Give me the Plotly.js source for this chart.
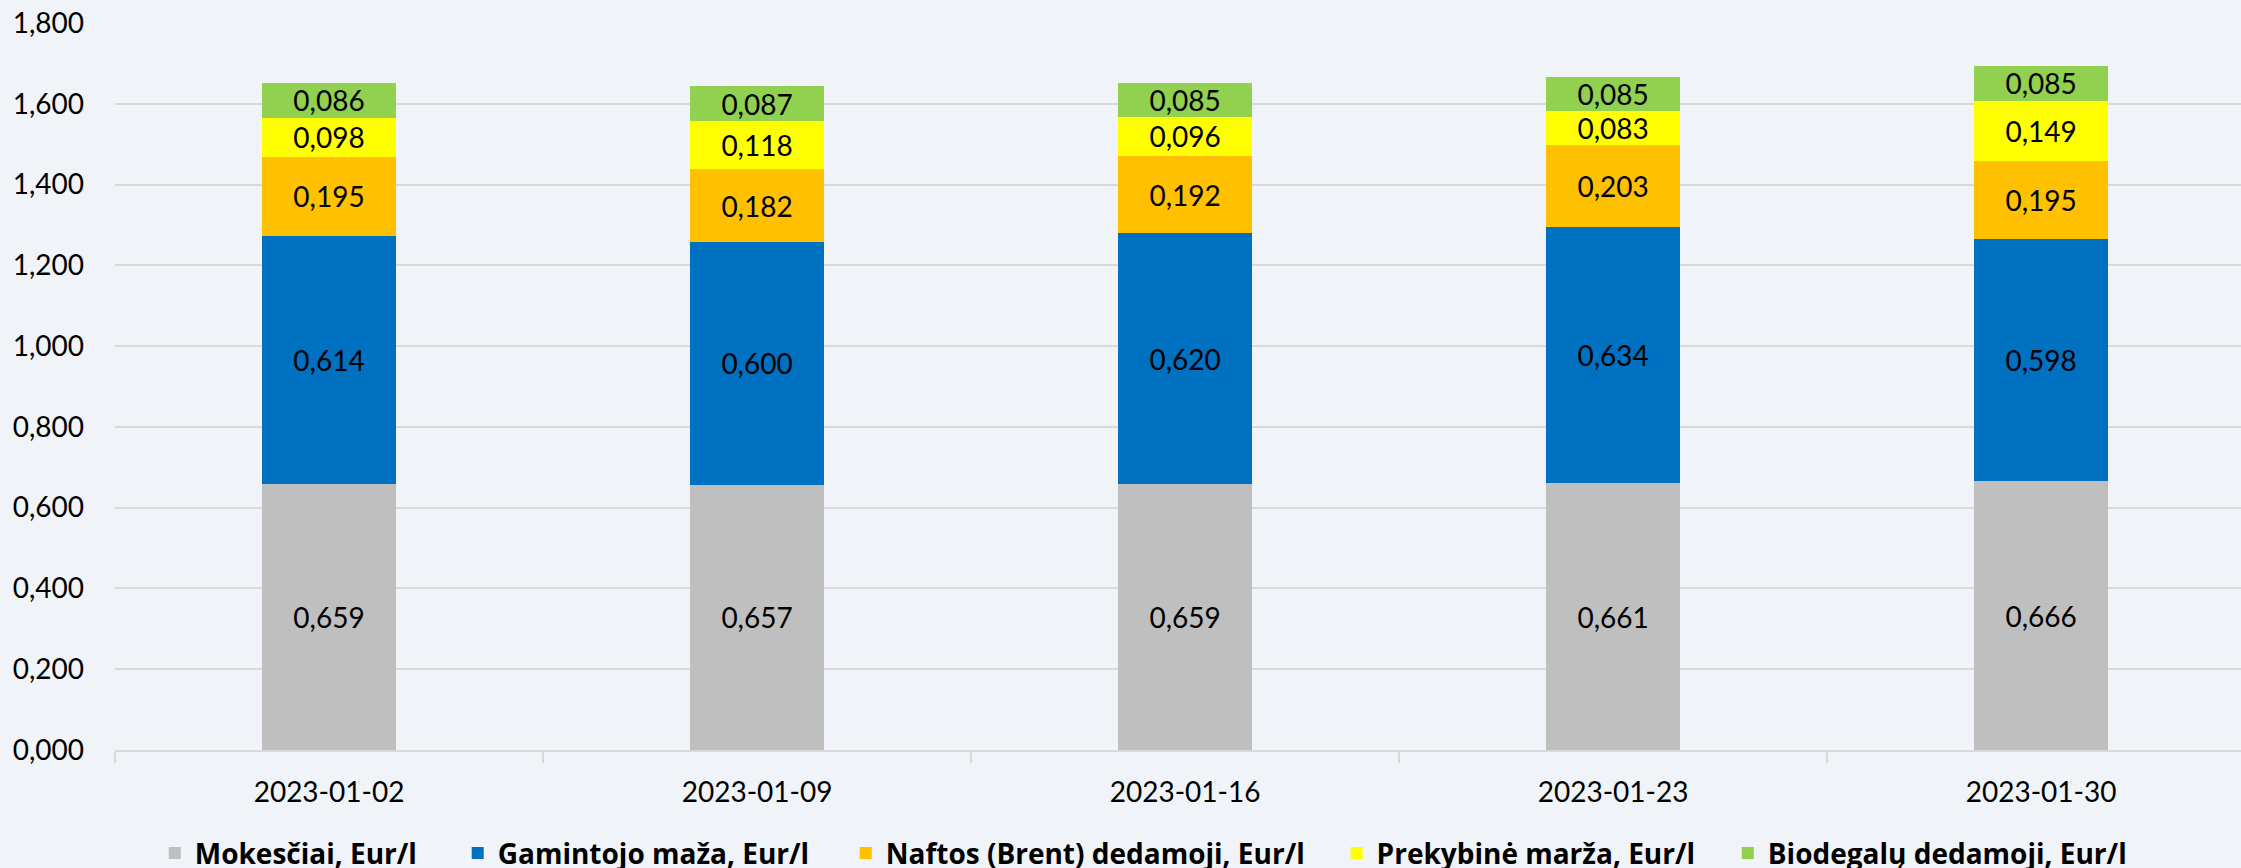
<!DOCTYPE html>
<html>
<head>
<meta charset="utf-8">
<script src="https://cdn.plot.ly/plotly-3.0.1.min.js"></script>
<style>
html,body{margin:0;padding:0;background:#F0F3F7;}
#chart{width:2241px;height:868px;}
</style>
</head>
<body>
<div id="chart"></div>
<script>
const categories = ['2023-01-02','2023-01-09','2023-01-16','2023-01-23','2023-01-30'];
const seriesNames = ['Mokesčiai, Eur/l','Gamintojo maža, Eur/l','Naftos (Brent) dedamoji, Eur/l','Prekybinė marža, Eur/l','Biodegalų dedamoji, Eur/l'];
const mokesciai = [0.659, 0.657, 0.659, 0.661, 0.666];
const gamintojo = [0.614, 0.600, 0.620, 0.634, 0.598];
const naftos = [0.195, 0.182, 0.192, 0.203, 0.195];
const prekybine = [0.098, 0.118, 0.096, 0.083, 0.149];
const biodegalu = [0.086, 0.087, 0.085, 0.085, 0.085];
const colors = ['#BFBFBF','#0070C0','#FFC000','#FFFF00','#92D050'];

const allSeries = [mokesciai, gamintojo, naftos, prekybine, biodegalu];
const fmt = v => v.toFixed(3).replace('.', ',');
const legendIds = ['legend','legend2','legend3','legend4','legend5'];
const legendX = [0.0187, 0.1612, 0.3437, 0.5746, 0.7586];

const traces = allSeries.map((vals, i) => ({
  type: 'bar',
  name: seriesNames[i],
  legend: legendIds[i],
  x: categories,
  y: vals,
  text: vals.map(fmt),
  textposition: 'inside',
  insidetextanchor: 'middle',
  constraintext: 'none',
  textfont: {family: 'Lato, sans-serif', size: 28, color: '#000000'},
  marker: {color: colors[i], line: {width: 0}},
  hoverinfo: 'skip'
}));

const layout = {
  width: 2241,
  height: 868,
  paper_bgcolor: '#F0F3F7',
  plot_bgcolor: '#F0F3F7',
  barmode: 'stack',
  bargap: 0.687,
  separators: ',.',
  font: {family: 'Lato, sans-serif', size: 28, color: '#000000'},
  margin: {l: 115, r: 0, t: 23, b: 118, pad: 0},
  xaxis: {
    type: 'category',
    range: [-0.5, 4.467],
    showgrid: false,
    showline: true,
    linecolor: '#D9D9D9',
    linewidth: 2,
    ticks: 'outside',
    tickson: 'boundaries',
    ticklen: 11,
    tickcolor: '#D9D9D9',
    tickwidth: 2,
    tickfont: {family: 'Lato, sans-serif', size: 28, color: '#000000'},
    ticklabelstandoff: 16,
    fixedrange: true
  },
  yaxis: {
    range: [0, 1.8],
    dtick: 0.2,
    tick0: 0,
    tickformat: '.3f',
    showgrid: true,
    gridcolor: '#D9D9D9',
    gridwidth: 2,
    zeroline: false,
    showline: false,
    tickfont: {family: 'Lato, sans-serif', size: 28, color: '#000000'},
    ticklabelstandoff: 30,
    fixedrange: true
  },
  showlegend: true
};

legendIds.forEach((id, i) => {
  layout[id] = {
    orientation: 'h',
    xref: 'paper',
    yref: 'container',
    x: legendX[i],
    xanchor: 'left',
    y: 0.017,
    yanchor: 'middle',
    bgcolor: 'rgba(0,0,0,0)',
    font: {family: '"Open Sans", sans-serif', size: 28, color: '#000000', weight: 'bold'},
    itemclick: false,
    itemdoubleclick: false
  };
});

Plotly.newPlot('chart', traces, layout, {displayModeBar: false, staticPlot: true});
</script>
</body>
</html>
